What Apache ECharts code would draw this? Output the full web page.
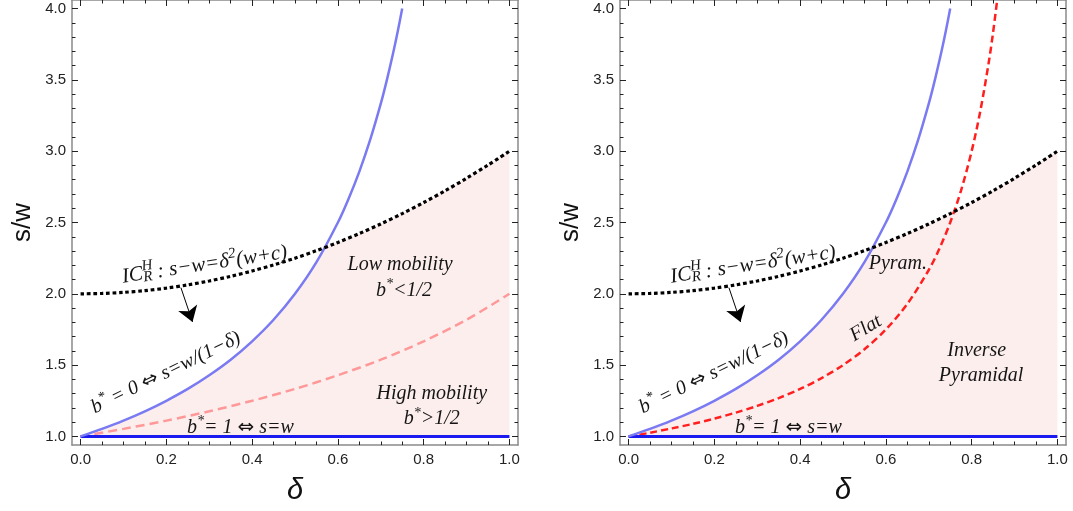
<!DOCTYPE html>
<html><head><meta charset="utf-8">
<script src="https://cdn.jsdelivr.net/npm/echarts@6/dist/echarts.min.js"></script>
<style>html,body{margin:0;padding:0;background:#fff}#c{width:1073px;height:511px}</style>
</head><body><div id="c"></div>
<script>
// ---------- tick labels ----------
const xTicks = [0, 0.2, 0.4, 0.6, 0.8, 1.0];
const xMinorTicks = [0.05,0.1,0.15,0.25,0.3,0.35,0.45,0.5,0.55,0.65,0.7,0.75,0.85,0.9,0.95];
const yTicks = [1.0, 1.5, 2.0, 2.5, 3.0, 3.5, 4.0];
const yMinorTicks = [1.1,1.2,1.3,1.4,1.6,1.7,1.8,1.9,2.1,2.2,2.3,2.4,2.6,2.7,2.8,2.9,3.1,3.2,3.3,3.4,3.6,3.7,3.8,3.9];

// ---------- series values ----------
// b* = 0 curve (solid light blue)
const deltaBlue = [0,0.05,0.1,0.15,0.2,0.25,0.3,0.35,0.4,0.45,0.5,0.55,0.6,0.625,0.65,0.675,0.7,0.715,0.73,0.74,0.75];
const sBlue     = [1,1.053,1.111,1.176,1.25,1.333,1.429,1.538,1.667,1.818,2.0,2.222,2.5,2.667,2.857,3.077,3.333,3.509,3.704,3.846,4.0];
// IC_R^H curve (black dotted)
const deltaIC = [0,0.05,0.1,0.15,0.2,0.25,0.3,0.35,0.4,0.45,0.5,0.55,0.6,0.65,0.7,0.75,0.8,0.85,0.9,0.95,1.0];
const sIC     = [2,2.0025,2.01,2.0225,2.04,2.0625,2.09,2.1225,2.16,2.2025,2.25,2.3025,2.36,2.4225,2.49,2.5625,2.64,2.7225,2.81,2.9025,3.0];
// b* = 1/2 boundary, left panel (pink dashed)
const deltaHalf = [0,0.1,0.2,0.3,0.4,0.5,0.6,0.7,0.8,0.9,1.0];
const sHalf     = [1,1.053,1.111,1.176,1.25,1.333,1.429,1.538,1.667,1.818,2.0];
// Flat boundary, right panel (red dashed)
const deltaFlat = [0,0.05,0.1,0.15,0.2,0.25,0.3,0.35,0.4,0.45,0.5,0.55,0.6,0.65,0.7,0.725,0.75,0.775,0.8,0.82,0.84,0.85,0.86];
const sFlat     = [1,1.026,1.056,1.088,1.125,1.167,1.214,1.269,1.333,1.409,1.5,1.611,1.75,1.929,2.167,2.318,2.5,2.722,3.0,3.278,3.625,3.833,4.071];
// b* = 1 line (dark blue)
const deltaOne = [0, 1];
const sOne     = [1, 1];
// upper edge of the shaded region
const deltaShade = [0,0.05,0.1,0.15,0.2,0.25,0.3,0.35,0.4,0.45,0.5,0.55,0.57,0.6,0.65,0.7,0.75,0.8,0.85,0.9,0.95,1.0];
const sShade     = [1,1.053,1.111,1.176,1.25,1.333,1.429,1.538,1.667,1.818,2.0,2.222,2.325,2.36,2.4225,2.49,2.5625,2.64,2.7225,2.81,2.9025,3.0];
// arrow below IC curve
const arrowIC = [[0.234, 2.043], [0.261, 1.803]];

const zip = (a, b) => a.map((v, i) => [v, b[i]]);

const SERIF = '"Liberation Serif","Times New Roman",serif';
const SANS = '"Liberation Sans",Arial,sans-serif';
const ARROWFONT = '"DejaVu Sans",sans-serif';
const AXC = '#8a8a8a';

const chart = echarts.init(document.getElementById('c'), null, {renderer: 'canvas'});

const grids = [
  {left: 72, top: -1, width: 446, height: 446},
  {left: 620, top: -1, width: 446, height: 446}
];
const XMIN = -0.02, XMAX = 1.02, YMIN = 0.94, YMAX = 4.06;

const xAxes = [], yAxes = [], series = [];
grids.forEach((g, gi) => {
  const base = {type: 'value', gridIndex: gi, min: XMIN, max: XMAX, splitLine: {show: false}};
  xAxes.push(Object.assign({}, base, {
    position: 'bottom', name: 'δ', nameLocation: 'middle', nameGap: 31,
    nameTextStyle: {fontFamily: SANS, fontSize: 29, fontStyle: 'italic', color: '#111'},
    axisLine: {show: true, onZero: false, lineStyle: {color: AXC, width: 1.5}},
    axisTick: {show: true, inside: true, length: 6, customValues: xTicks, lineStyle: {color: '#222', width: 1}},
    axisLabel: {show: true, customValues: xTicks, margin: 7, fontFamily: SANS, fontSize: 15, color: '#222',
      formatter: v => v.toFixed(1)}
  }));
  xAxes.push(Object.assign({}, base, {
    position: 'bottom', axisLine: {show: false, onZero: false},
    axisTick: {show: true, inside: true, length: 3.5, customValues: xMinorTicks, lineStyle: {color: '#222', width: 1}},
    axisLabel: {show: false}
  }));
  xAxes.push(Object.assign({}, base, {
    position: 'top', axisLine: {show: true, onZero: false, lineStyle: {color: AXC, width: 1.5}},
    axisTick: {show: true, inside: true, length: 6, customValues: xTicks, lineStyle: {color: '#222', width: 1}},
    axisLabel: {show: false}
  }));
  xAxes.push(Object.assign({}, base, {
    position: 'top', axisLine: {show: false, onZero: false},
    axisTick: {show: true, inside: true, length: 3.5, customValues: xMinorTicks, lineStyle: {color: '#222', width: 1}},
    axisLabel: {show: false}
  }));

  const ybase = {type: 'value', gridIndex: gi, min: YMIN, max: YMAX, splitLine: {show: false}};
  yAxes.push(Object.assign({}, ybase, {
    position: 'left', name: 's/w', nameLocation: 'middle', nameGap: 36,
    nameTextStyle: {fontFamily: SANS, fontSize: 26, color: '#111'},
    axisLine: {show: true, onZero: false, lineStyle: {color: AXC, width: 1.5}},
    axisTick: {show: true, inside: true, length: 6, customValues: yTicks, lineStyle: {color: '#222', width: 1}},
    axisLabel: {show: true, customValues: yTicks, margin: 6, fontFamily: SANS, fontSize: 15, color: '#222',
      formatter: v => v.toFixed(1)}
  }));
  yAxes.push(Object.assign({}, ybase, {
    position: 'left', axisLine: {show: false, onZero: false},
    axisTick: {show: true, inside: true, length: 3.5, customValues: yMinorTicks, lineStyle: {color: '#222', width: 1}},
    axisLabel: {show: false}
  }));
  yAxes.push(Object.assign({}, ybase, {
    position: 'right', axisLine: {show: true, onZero: false, lineStyle: {color: AXC, width: 1.5}},
    axisTick: {show: true, inside: true, length: 6, customValues: yTicks, lineStyle: {color: '#222', width: 1}},
    axisLabel: {show: false}
  }));
  yAxes.push(Object.assign({}, ybase, {
    position: 'right', axisLine: {show: false, onZero: false},
    axisTick: {show: true, inside: true, length: 3.5, customValues: yMinorTicks, lineStyle: {color: '#222', width: 1}},
    axisLabel: {show: false}
  }));

  const xi = gi * 4, yi = gi * 4;
  const common = {type: 'line', xAxisIndex: xi, yAxisIndex: yi, showSymbol: false, symbol: 'none', silent: true, animation: false};
  series.push(Object.assign({}, common, {
    name: 'shade' + gi, data: zip(deltaShade, sShade), z: 1,
    lineStyle: {width: 0, opacity: 0}, areaStyle: {color: '#fdeeee', opacity: 1, origin: 1}
  }));
  if (gi === 0) {
    series.push(Object.assign({}, common, {
      name: 'half', data: zip(deltaHalf, sHalf), z: 2, smooth: 0.3,
      lineStyle: {color: '#ff9898', width: 2.5, type: [9, 5]}
    }));
  } else {
    series.push(Object.assign({}, common, {
      name: 'flat', data: zip(deltaFlat, sFlat), z: 2, smooth: 0.3,
      lineStyle: {color: '#ff1f1f', width: 2.5, type: [7, 4]}
    }));
  }
  series.push(Object.assign({}, common, {
    name: 'one' + gi, data: zip(deltaOne, sOne), z: 3,
    lineStyle: {color: '#1b1bf0', width: 3}
  }));
  series.push(Object.assign({}, common, {
    name: 'blue' + gi, data: zip(deltaBlue, sBlue), z: 4, smooth: 0.3,
    lineStyle: {color: '#7a7af2', width: 2.5}
  }));
  series.push(Object.assign({}, common, {
    name: 'ic' + gi, data: zip(deltaIC, sIC), z: 5, smooth: 0.3,
    lineStyle: {color: '#000', width: 3.2, type: [3.6, 2.8], cap: 'butt'}
  }));
  series.push({
    type: 'lines', coordinateSystem: 'cartesian2d', xAxisIndex: xi, yAxisIndex: yi, silent: true, animation: false, z: 6,
    symbol: ['none', 'arrow'], symbolSize: [0, 15],
    lineStyle: {color: '#000', width: 1, opacity: 1},
    data: [{coords: arrowIC}]
  });
});

chart.setOption({
  animation: false,
  backgroundColor: '#fff',
  grid: grids,
  xAxis: xAxes,
  yAxis: yAxes,
  series: series
});

// ---------- text annotations ----------
const mctx = document.createElement('canvas').getContext('2d');
function fontOf(s, size) { return s.arrow ? (size + 'px ' + ARROWFONT) : ('italic ' + size + 'px ' + SERIF); }
function tw(s, size) { mctx.font = fontOf(s, size); return mctx.measureText(s.t).width; }

const IC_SEGS = [
  {t: 'IC'}, {t: 'H', small: true, dy: -0.45, noAdv: true}, {t: 'R', small: true, dy: 0.08},
  {t: ' : s\u2212w=\u03b4'}, {t: '2', small: true, dy: -0.42}, {t: '(w+c)'}
];
const B0_SEGS = [{t: 'b'}, {t: '*', small: true, dy: -0.4}, {t: ' = 0 '}, {t: '\u21d4', arrow: true}, {t: ' s=w/(1\u2212\u03b4)'}];
const B1_SEGS = [{t: 'b'}, {t: '*', small: true, dy: -0.4}, {t: '= 1 '}, {t: '\u21d4', arrow: true}, {t: ' s=w'}];

const labels = [
  {g: 0, at: [0.099, 2.073], rot: 8.5, size: 21, segs: IC_SEGS},
  {g: 0, at: [0.034, 1.157], rot: 26, size: 20, segs: B0_SEGS},
  {g: 0, at: [0.248, 1.020], rot: 0, size: 20, segs: B1_SEGS},
  {g: 0, at: [0.745, 2.160], rot: 0, size: 20, center: true, segs: [{t: 'Low mobility'}]},
  {g: 0, at: [0.754, 1.978], rot: 0, size: 20, center: true, segs: [{t: 'b'}, {t: '*', small: true, dy: -0.4}, {t: '<1/2'}]},
  {g: 0, at: [0.819, 1.260], rot: 0, size: 20, center: true, segs: [{t: 'High mobility'}]},
  {g: 0, at: [0.819, 1.080], rot: 0, size: 20, center: true, segs: [{t: 'b'}, {t: '*', small: true, dy: -0.4}, {t: '>1/2'}]},
  {g: 1, at: [0.100, 2.073], rot: 8.5, size: 21, segs: IC_SEGS},
  {g: 1, at: [0.034, 1.157], rot: 26, size: 20, segs: B0_SEGS},
  {g: 1, at: [0.248, 1.020], rot: 0, size: 20, segs: B1_SEGS},
  {g: 1, at: [0.560, 2.171], rot: 0, size: 20, segs: [{t: 'Pyram.'}]},
  {g: 1, at: [0.527, 1.661], rot: 31, size: 20, segs: [{t: 'Flat'}]},
  {g: 1, at: [0.812, 1.558], rot: 0, size: 20, center: true, segs: [{t: 'Inverse'}]},
  {g: 1, at: [0.822, 1.383], rot: 0, size: 20, center: true, segs: [{t: 'Pyramidal'}]}
];

function buildLabel(l) {
  const p = chart.convertToPixel({gridIndex: l.g}, l.at);
  const kids = [];
  let x = 0;
  l.segs.forEach(s => {
    const size = s.small ? Math.round(l.size * 0.72) : l.size;
    const w = tw(s, size);
    const dy = (s.dy || 0) * l.size;
    kids.push({type: 'text', x: x, y: dy - 0.3 * size, z: 100, zlevel: 0,
      style: {text: s.t, font: fontOf(s, size), fill: '#151515', align: 'left', verticalAlign: 'middle'}});
    if (!s.noAdv) x += w;
  });
  if (l.center) kids.forEach(k => { k.x -= x / 2; });
  return {type: 'group', x: p[0], y: p[1], rotation: l.rot * Math.PI / 180, z: 100, silent: true, children: kids};
}

chart.setOption({graphic: labels.map(buildLabel)});
</script>
</body></html>
